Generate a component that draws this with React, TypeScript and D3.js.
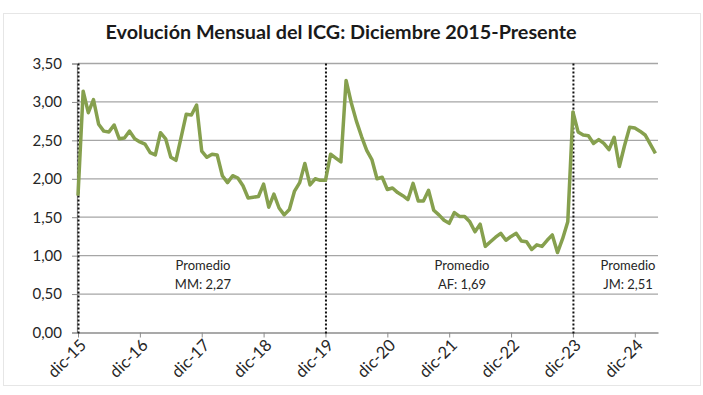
import React, { useEffect, useRef } from 'react';
import * as d3 from 'd3';

// ICG monthly values, dic-15 onwards (one per month)
const icgValues = [
  1.78, 3.14, 2.86, 3.03, 2.71, 2.62, 2.61, 2.70, 2.52, 2.53, 2.62, 2.52,
  2.48, 2.45, 2.34, 2.31, 2.60, 2.52, 2.28, 2.24, 2.54, 2.84, 2.83, 2.96,
  2.36, 2.28, 2.32, 2.31, 2.04, 1.95, 2.04, 2.01, 1.91, 1.75, 1.76, 1.77,
  1.93, 1.63, 1.80, 1.62, 1.53, 1.60, 1.84, 1.95, 2.20, 1.92, 2.00, 1.98,
  1.98, 2.32, 2.27, 2.22, 3.28, 2.99, 2.75, 2.55, 2.37, 2.25, 2.00, 2.02,
  1.86, 1.88, 1.82, 1.78, 1.73, 1.94, 1.71, 1.71, 1.85, 1.59, 1.53, 1.46,
  1.42, 1.56, 1.51, 1.51, 1.44, 1.31, 1.41, 1.12, 1.18, 1.24, 1.29, 1.20,
  1.25, 1.29, 1.19, 1.18, 1.08, 1.14, 1.12, 1.20, 1.27, 1.04, 1.22, 1.44,
  2.87, 2.61, 2.57, 2.56, 2.46, 2.51, 2.46, 2.38, 2.54, 2.16, 2.43, 2.67,
  2.66, 2.62, 2.57, 2.45, 2.33,
];

const xTickLabels = ['dic-15', 'dic-16', 'dic-17', 'dic-18', 'dic-19', 'dic-20', 'dic-21', 'dic-22', 'dic-23', 'dic-24'];
const yTicks = [0, 0.5, 1, 1.5, 2, 2.5, 3, 3.5];

// periods: month index where each one begins, and its average
const periodStarts = [0, 48, 96];
const periodNames = ['MM', 'AF', 'JM'];
const periodAverages = ['2,27', '1,69', '2,51'];

const FONT = 'Lato, "Open Sans", sans-serif';

const App = () => {
  const ref = useRef<SVGSVGElement>(null);

  useEffect(() => {
    const svg = d3.select(ref.current);
    svg.selectAll('*').remove();

    const left = 78, right = 658, top = 63.5, bottom = 332.5;

    const x = d3.scaleLinear().domain([0, 112.5]).range([left, right]);
    const y = d3.scaleLinear().domain([0, 3.5]).range([bottom, top]);

    svg.append('rect')
      .attr('x', 3.5).attr('y', 13.5).attr('width', 697).attr('height', 372)
      .attr('fill', '#fff').attr('stroke', '#e6e6e6');

    svg.append('text')
      .attr('x', 341).attr('y', 39)
      .attr('text-anchor', 'middle')
      .attr('font-family', FONT)
      .attr('font-weight', 'bold')
      .attr('font-size', 19.8)
      .attr('fill', '#1a1a1a')
      .text('Evolución Mensual del ICG: Diciembre 2015-Presente');

    // gridlines
    svg.append('g')
      .selectAll('line')
      .data(yTicks.filter(d => d > 0))
      .join('line')
      .attr('x1', left).attr('x2', right)
      .attr('y1', d => y(d)).attr('y2', d => y(d))
      .attr('stroke', '#a6a6a6').attr('stroke-width', 1.3);

    // y axis
    const yAxis = svg.append('g')
      .attr('transform', `translate(${left - 1},0)`)
      .call(d3.axisLeft(y).tickValues(yTicks).tickSize(5).tickPadding(10)
        .tickFormat(d => d3.format('.2f')(d as number).replace('.', ',')));
    yAxis.select('.domain').attr('stroke', '#8c8c8c').attr('stroke-width', 1.2);
    yAxis.selectAll('.tick line').attr('stroke', '#8c8c8c');
    yAxis.selectAll('text')
      .attr('font-family', FONT).attr('font-size', 15).attr('fill', '#262626');

    // x axis
    const xAxis = svg.append('g')
      .attr('transform', `translate(0,${bottom})`)
      .call(d3.axisBottom(x).tickValues(xTickLabels.map((_, i) => i * 12)).tickSize(5).tickSizeOuter(0)
        .tickFormat((_, i) => xTickLabels[i]));
    xAxis.select('.domain').attr('stroke', '#8c8c8c').attr('stroke-width', 1.3);
    xAxis.selectAll('.tick line').attr('stroke', '#8c8c8c');
    xAxis.selectAll('text')
      .attr('font-family', FONT).attr('font-size', 16.5).attr('fill', '#262626')
      .attr('text-anchor', 'end')
      .attr('dy', 0)
      .attr('transform', 'translate(3,8) rotate(-45)');

    // period separators
    svg.append('g')
      .selectAll('line')
      .data(periodStarts)
      .join('line')
      .attr('x1', d => x(d) + 0.5).attr('x2', d => x(d) + 0.5)
      .attr('y1', top).attr('y2', bottom + 3)
      .attr('stroke', '#111').attr('stroke-width', 2)
      .attr('stroke-dasharray', '2,2');

    // averages
    const labels = svg.append('g')
      .attr('font-family', FONT).attr('font-size', 13).attr('fill', '#262626')
      .attr('text-anchor', 'middle');
    const centers = [203, 462, 628];
    periodNames.forEach((name, i) => {
      labels.append('text').attr('x', centers[i]).attr('y', 270).text('Promedio');
      labels.append('text').attr('x', centers[i]).attr('y', 289).text(`${name}: ${periodAverages[i]}`);
    });

    const line = d3.line<number>()
      .x((_, i) => x(i))
      .y(d => y(d));

    svg.append('path')
      .datum(icgValues)
      .attr('fill', 'none')
      .attr('stroke', '#86a04e')
      .attr('stroke-width', 3.5)
      .attr('stroke-linejoin', 'round')
      .attr('d', line);
  }, []);

  return (
    <svg ref={ref} width={703} height={395}
      style={{ position: 'absolute', left: 0, top: 0, background: '#fff' }} />
  );
};

export default App;
